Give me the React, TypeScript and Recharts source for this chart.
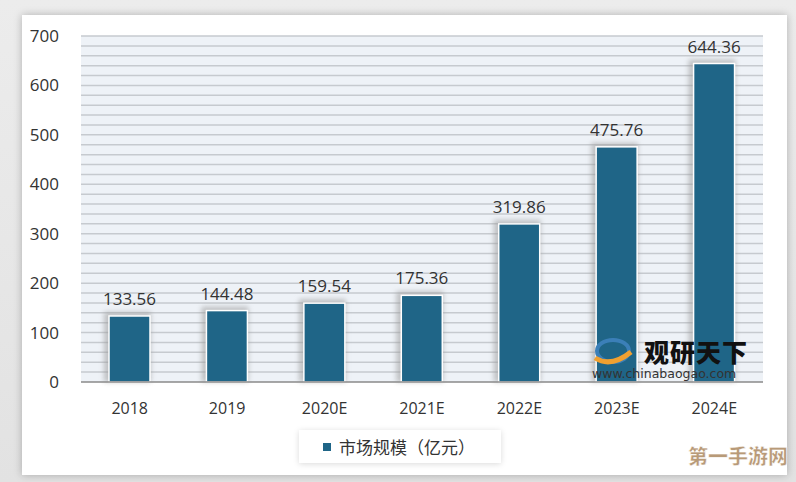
import React from 'react';
import { BarChart, Bar, XAxis, YAxis, ReferenceLine, LabelList, ReferenceArea } from 'recharts';

const categories = ['2018', '2019', '2020E', '2021E', '2022E', '2023E', '2024E'];
const values = [133.56, 144.48, 159.54, 175.36, 319.86, 475.76, 644.36];
const yTicks = [0, 100, 200, 300, 400, 500, 600, 700];
const gridValues = [20, 40, 60, 80, 100, 120, 140, 160, 180, 200, 220, 240, 260, 280, 300, 320, 340, 360, 380, 400, 420, 440, 460, 480, 500, 520, 540, 560, 580, 600, 620, 640, 660, 680, 700];
const seriesName = '市场规模（亿元）';

const data = categories.map((c, i) => ({ name: c, value: values[i] }));

const BAR_COLOR = '#1f6587';
const FONT = '"Open Sans", "Noto Sans", sans-serif';
const MARGIN = { top: 36, right: 33, bottom: 70, left: 26 };

const BarShape = (props: any) => {
  const { x, y, width, height } = props;
  if (!height || height <= 0) return null;
  return (
    <g>
      <rect x={x - 5} y={y - 4} width={width + 6} height={height + 4} fill="#9a9a9a" opacity={0.55} filter="url(#barShadow)" />
      <rect x={x} y={y} width={width} height={height} fill={BAR_COLOR} stroke="#ffffff" strokeWidth={1.5} />
    </g>
  );
};

export default function App() {
  return (
    <div style={{ position: 'absolute', left: 0, top: 0, width: 796, height: 482, background: 'linear-gradient(180deg, #ececec 0%, #e2e2e2 100%)', overflow: 'hidden' }}>
      <div style={{ position: 'absolute', left: 22, top: 15, width: 765, height: 460, background: '#ffffff', boxShadow: '0 0 8px rgba(0,0,0,0.25)' }} />
      {/* background layer: plot fill + grid lines */}
      <div style={{ position: 'absolute', left: 0, top: 0 }}>
        <BarChart width={796} height={482} data={data} margin={MARGIN} barSize={41}>
          <XAxis dataKey="name" height={30} axisLine={false} tickLine={false} tick={false} />
          <YAxis domain={[0, 700]} ticks={yTicks} width={55} axisLine={false} tickLine={false} tick={false} />
          <ReferenceArea y1={0} y2={700} fill="#eef2f7" fillOpacity={1} stroke="none" ifOverflow="visible" />
          {gridValues.map((v) => (
            <ReferenceLine key={v} y={v} stroke="#c6cacf" strokeWidth={1.5} ifOverflow="visible" />
          ))}
          <Bar dataKey="value" fill="transparent" isAnimationActive={false} />
        </BarChart>
      </div>
      {/* foreground layer: bars, axes, labels */}
      <div style={{ position: 'absolute', left: 0, top: 0 }}>
        <BarChart width={796} height={482} data={data} margin={MARGIN} barSize={41}>
          <defs>
            <filter id="barShadow" x="-50%" y="-50%" width="200%" height="200%">
              <feGaussianBlur stdDeviation="2.5" />
            </filter>
          </defs>
          <XAxis
            dataKey="name"
            axisLine={{ stroke: '#8a8a8a', strokeWidth: 1.5 }}
            tickLine={false}
            tickMargin={15}
            height={30}
            tick={{ fill: '#333', fontSize: 16, fontFamily: FONT }}
          />
          <YAxis
            domain={[0, 700]}
            ticks={yTicks}
            axisLine={false}
            tickLine={false}
            width={55}
            tickMargin={16}
            tick={{ fill: '#333', fontSize: 17, fontFamily: FONT }}
          />
          <Bar dataKey="value" name={seriesName} fill={BAR_COLOR} isAnimationActive={false} shape={<BarShape />}>
            <LabelList
              dataKey="value"
              position="top"
              offset={11}
              formatter={(v: any) => Number(v).toFixed(2)}
              style={{ fill: '#333', fontSize: 17, fontFamily: FONT }}
            />
          </Bar>
        </BarChart>
      </div>
      <div
        style={{
          position: 'absolute',
          left: 299,
          top: 430,
          width: 202,
          height: 33,
          background: '#ffffff',
          boxShadow: '0 1px 6px rgba(0,0,0,0.15)',
          display: 'flex',
          alignItems: 'center',
          fontFamily: '"Noto Sans CJK SC", "Noto Sans", sans-serif',
          fontSize: 17,
          color: '#333',
          whiteSpace: 'nowrap',
        }}
      >
        <span style={{ display: 'inline-block', width: 8, height: 8, background: BAR_COLOR, marginLeft: 24, marginRight: 8 }} />
        <span>{seriesName}</span>
      </div>
      <div style={{ position: 'absolute', left: 591, top: 334, width: 50, height: 42, pointerEvents: 'none' }}>
        <svg width={50} height={42}>
          <ellipse cx={22} cy={17} rx={16} ry={11} fill="none" stroke="#3b7fb8" strokeWidth={4} />
          <path d="M4 24 Q 20 34 40 18" fill="none" stroke="#f0a030" strokeWidth={5} />
        </svg>
      </div>
      <div style={{ position: 'absolute', left: 644, top: 337, fontFamily: '"Noto Sans CJK SC", sans-serif', fontWeight: 900, fontSize: 25, color: '#111', letterSpacing: 1, lineHeight: '28px', whiteSpace: 'nowrap' }}>观研天下</div>
      <div style={{ position: 'absolute', left: 592, top: 366, fontFamily: '"DejaVu Sans", sans-serif', fontSize: 12.5, color: '#333', lineHeight: '15px', whiteSpace: 'nowrap' }}>www.chinabaogao.com</div>
      <div style={{ position: 'absolute', left: 688, top: 441, fontFamily: '"Noto Sans CJK SC", sans-serif', fontWeight: 900, fontSize: 20, color: '#b89a78', lineHeight: '30px', whiteSpace: 'nowrap', WebkitTextStroke: '0.5px #fff' }}>第一手游网</div>
    </div>
  );
}
